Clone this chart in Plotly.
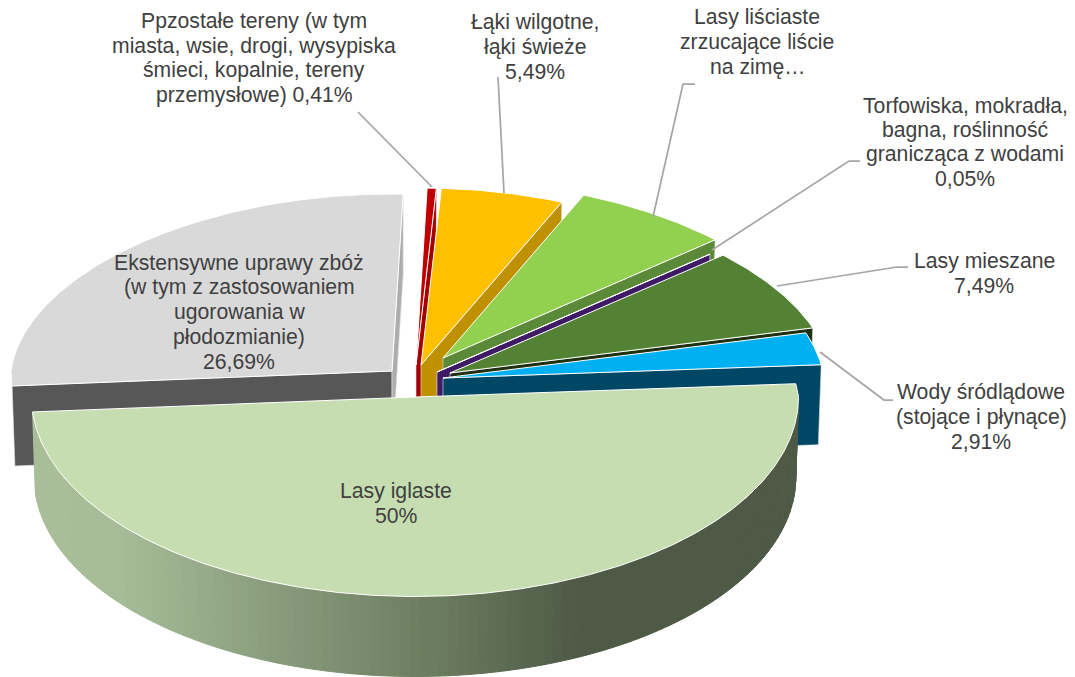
import numpy as np
import plotly.graph_objects as go

# --- data ---
categories = ["Lasy iglaste", "Ekstensywne uprawy zbóż", "Pozostałe tereny", "Łąki",
              "Lasy liściaste", "Torfowiska", "Lasy mieszane", "Wody śródlądowe"]
values = [50.0, 26.69, 0.41, 5.49, 6.96, 0.05, 7.49, 2.91]
top_colors = ["#C5DDB0", "#D9D9D9", "#C00000", "#FFC000", "#92D050", "#7030A0", "#548235", "#00B0F0"]
wall_colors = [None, "#ADADAD", "#A50000", "#BF9000", "#5A8A38", "#3F1B66", "#1E3010", "#004765"]
label_lines = [
    ["Lasy iglaste", "50%"],
    ["Ekstensywne uprawy zbóż", "(w tym z zastosowaniem", "ugorowania w", "płodozmianie)", "26,69%"],
    ["Ppzostałe tereny (w tym", "miasta, wsie, drogi, wysypiska", "śmieci, kopalnie, tereny", "przemysłowe) 0,41%"],
    ["Łąki wilgotne,", "łąki świeże", "5,49%"],
    ["Lasy liściaste", "zrzucające liście", "na zimę…"],
    ["Torfowiska, mokradła,", "bagna, roślinność", "granicząca z wodami", "0,05%"],
    ["Lasy mieszane", "7,49%"],
    ["Wody śródlądowe", "(stojące i płynące)", "2,91%"],
]

# --- layout of the 3-D pie (pixel space of the axes) ---
W, H = 1075, 677
START_DEG = 4.3
RX, RY_UP, RY_DOWN = 381.0, 177.0, 199.5
RX_FRONT = 383.5
DEPTH = 80.0
PERSP = 0.06
CX = 415.0
LINE_STEP = 24.6
apex = [(415, 397), (392, 371), (416, 365), (421, 365), (443, 358), (437, 372), (450, 373), (443, 378)]
label_pos = [(396, 503), (239, 312), (254, 58), (535, 47), (757, 42), (965, 142), (984, 273), (981, 417)]
leaders = [
    None, None,
    [(358, 112), (432, 187)],
    [(498, 77), (504, 193)],
    [(695, 84), (683, 84), (653, 217)],
    [(860, 161), (849, 161), (712, 250)],
    [(908, 267), (897, 267), (777, 286)],
    [(820, 352), (884, 400), (893, 400)],
]

fig = go.Figure()


def pt(ap, deg, rx=RX):
    a = np.radians(deg)
    s, c = np.sin(a), np.cos(a)
    ry = np.where(s >= 0, RY_UP, RY_DOWN)
    return ap[0] + rx * c * (1 - PERSP * np.maximum(s, 0)), ap[1] - ry * s


def lower(x, y):
    return CX + (x - CX) * 0.993, y + DEPTH


def poly(x, y, fill, line="#FFFFFF", width=1.0):
    fig.add_trace(go.Scatter(x=list(x), y=list(y), mode="lines", fill="toself", fillcolor=fill,
                             line=dict(color=line, width=width), hoverinfo="skip", showlegend=False))


def edge_wall(ap, deg, color):
    ox, oy = pt(ap, deg)
    lox, loy = lower(ox, oy)
    lax, lay = lower(ap[0], ap[1])
    poly([ap[0], ox, lox, lax, ap[0]], [ap[1], oy, loy, lay, ap[1]], color, "#E8E8E8", 0.6)


# cumulative angles, clockwise from START_DEG
sweep = np.array(values) / sum(values) * 360.0
starts = START_DEG - np.concatenate([[0], np.cumsum(sweep)[:-1]])
ends = starts - sweep


def top(i):
    d = np.linspace(starts[i], ends[i], max(4, int(sweep[i] * 2)))
    ox, oy = pt(apex[i], d, RX_FRONT if i == 0 else RX)
    poly(np.r_[apex[i][0], ox, apex[i][0]], np.r_[apex[i][1], oy, apex[i][1]], top_colors[i])


# back slices, left to right
edge_wall(apex[1], starts[1], "#575757")
for i in range(1, 8):
    edge_wall(apex[i], ends[i], wall_colors[i])
    top(i)

# big front slice: shaded outer wall, from its left corner round to the rightmost point
grad_x = [36, 123, 274, 445, 583, 800]
grad_r = [0xA9, 0xA6, 0x89, 0x6A, 0x4E, 0x4F]
grad_g = [0xBF, 0xBC, 0x9D, 0x7A, 0x59, 0x5A]
grad_b = [0x99, 0x98, 0x7D, 0x5D, 0x46, 0x47]
edges = np.linspace(ends[0], 0, 121)
for a0, a1 in zip(edges[:-1], edges[1:]):
    d = np.linspace(a0, a1, 3)
    ux, uy = pt(apex[0], d, RX_FRONT)
    lx, ly = lower(ux, uy)
    xm = ux.mean()
    col = "rgb(%d,%d,%d)" % (np.interp(xm, grad_x, grad_r), np.interp(xm, grad_x, grad_g), np.interp(xm, grad_x, grad_b))
    poly(np.r_[ux, lx[::-1], ux[0]], np.r_[uy, ly[::-1], uy[0]], col, col, 1.0)
top(0)

# leader lines
for seg in leaders:
    if seg:
        fig.add_trace(go.Scatter(x=[p[0] for p in seg], y=[p[1] for p in seg], mode="lines",
                                 line=dict(color="#A6A6A6", width=1.75), hoverinfo="skip", showlegend=False))

# labels, one annotation per line for the tight line spacing
for lines, (lx, ly) in zip(label_lines, label_pos):
    n = len(lines)
    for k, text in enumerate(lines):
        fig.add_annotation(x=lx, y=ly + (k - (n - 1) / 2) * LINE_STEP, text=text, showarrow=False,
                           xanchor="center", yanchor="middle", align="center",
                           font=dict(family="Liberation Sans", size=21.2, color="#404040"))

fig.update_layout(width=W, height=H, margin=dict(l=0, r=0, t=0, b=0), paper_bgcolor="white", plot_bgcolor="white",
                  xaxis=dict(visible=False, range=[0, W], fixedrange=True),
                  yaxis=dict(visible=False, range=[H, 0], fixedrange=True), showlegend=False)
fig.write_html("out.html", config={"displayModeBar": False},
               post_script="document.body.style.margin='0';document.body.style.overflow='hidden';")
